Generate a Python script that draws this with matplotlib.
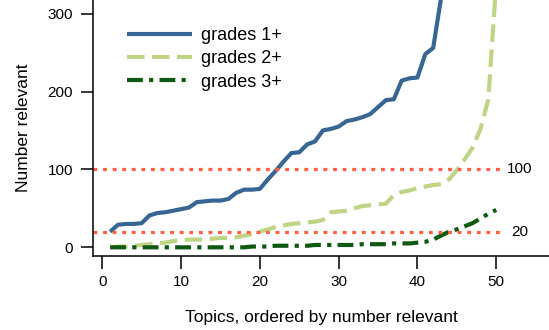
import matplotlib
matplotlib.use("Agg")
import matplotlib.pyplot as plt
import numpy as np

plt.rcParams['font.family'] = ['Liberation Sans', 'DejaVu Sans']

# topics 1..50, sorted by number of relevant documents
topics = np.arange(1, 51)
grades1 = [20, 29, 30, 30, 31, 41, 44, 45, 47, 49,
           51, 58, 59, 60, 60, 62, 70, 74, 74, 75,
           87, 98, 110, 121, 122, 132, 136, 150, 152, 155,
           162, 164, 167, 171, 180, 189, 190, 214, 217, 218,
           248, 256, 320, 380, 420, 460, 520, 600, 700, 900]
grades2 = [0, 1, 1, 2, 3, 4, 5, 6, 8, 9,
           10, 10, 10, 11, 12, 12, 13, 15, 17, 20,
           23, 26, 28, 30, 31, 32, 33, 35, 45, 46,
           47, 50, 53, 54, 55, 56, 67, 71, 73, 76,
           78, 80, 81, 87, 99, 113, 128, 152, 190, 340]
grades3 = [0, 0, 0, 0, 0, 0, 0, 0, 0, 0,
           0, 0, 0, 0, 0, 0, 0, 0, 1, 1,
           1, 2, 2, 2, 2, 2, 3, 3, 3, 3,
           3, 3, 4, 4, 4, 4, 5, 5, 5, 6,
           7, 10, 15, 20, 23, 27, 31, 37, 43, 48]
thresholds = [100, 20]

fig = plt.figure(figsize=(5.49, 3.30), dpi=100)
ax = fig.add_axes([93.3 / 549, 1 - 255.8 / 330, 1 - 93.3 / 549, 255.8 / 330])
ax.set_xlim(-1.14, 56.7)
ax.set_ylim(-10.9, 317.5)

ax.plot(topics, grades1, color='#386694', lw=3, solid_capstyle='butt', label='grades 1+')
ax.plot(topics, grades2, color='#bfd585', lw=3, dashes=(4.2, 1.8), dash_capstyle='butt',
        label='grades 2+')
ax.plot(topics, grades3, color='#0f5a12', lw=3, dashes=(3.8, 1.5, 1, 1.5), dash_capstyle='butt',
        label='grades 3+')

for t in thresholds:
    ax.plot([-1.14, 50.5], [t, t], color='#ff6040', lw=2.3, dashes=(1.2, 1.8),
            dash_capstyle='butt')
    ax.text(53.0, t, str(t), ha='center', va='center', fontsize=11)

for s in ['top', 'right']:
    ax.spines[s].set_visible(False)
for s in ['left', 'bottom']:
    ax.spines[s].set_linewidth(1.1)

ax.set_xticks([0, 10, 20, 30, 40, 50])
ax.set_yticks([0, 100, 200, 300])
ax.tick_params(axis='both', direction='out', width=1.1, labelsize=11)
ax.tick_params(axis='y', length=8.6, pad=6)
ax.tick_params(axis='x', length=9.5, pad=4.5)

ax.set_xlabel('Topics, ordered by number relevant', fontsize=12.5, labelpad=15)
ax.set_ylabel('Number relevant', fontsize=12.5, labelpad=12)

ax.legend(loc='upper left', bbox_to_anchor=(118 / 549, 1 - 18 / 330),
          bbox_transform=fig.transFigure, frameon=False, fontsize=13,
          handlelength=3.6, handletextpad=0.5, labelspacing=0.35, borderpad=0)

fig.savefig('out.png', dpi=100)
